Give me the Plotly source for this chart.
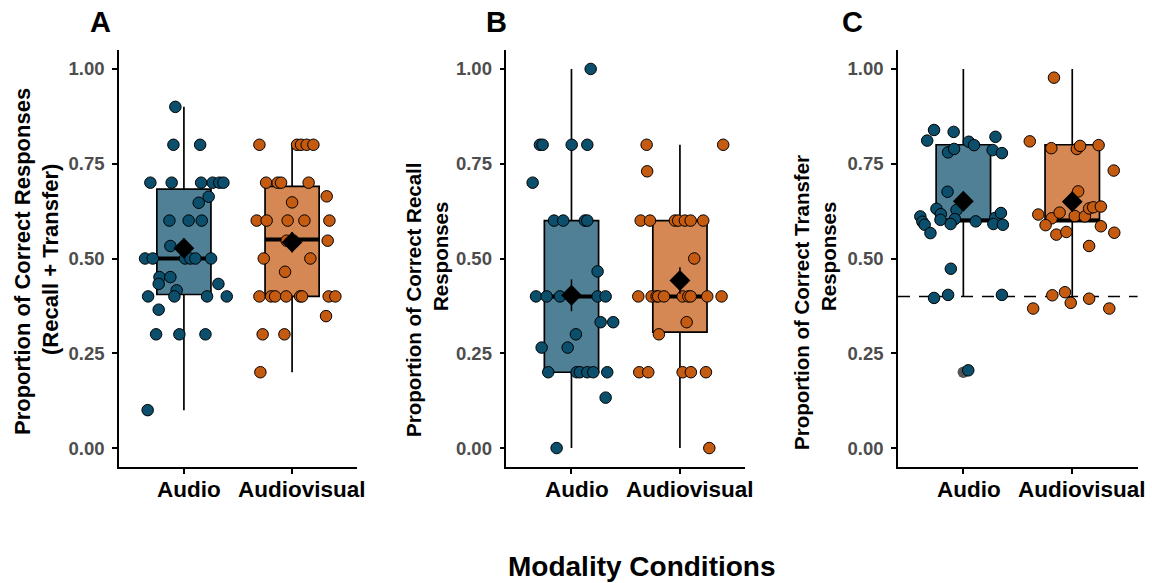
import plotly.graph_objects as go

# ---------------- data ----------------
categories = ["Audio", "Audiovisual"]

# Panel A: recall + transfer
A_audio_y = [0.90, 0.80, 0.80, 0.70, 0.70, 0.70, 0.70, 0.70, 0.70, 0.663, 0.647, 0.60, 0.60, 0.60,
             0.533, 0.50, 0.50, 0.50, 0.50, 0.50, 0.50, 0.451, 0.451, 0.433, 0.416, 0.433, 0.40, 0.40,
             0.40, 0.40, 0.365, 0.30, 0.30, 0.30, 0.10]
A_audio_jit = [-0.079, -0.097, 0.150, -0.310, -0.113, 0.159, 0.266, 0.328, 0.365, 0.229, 0.137, -0.134,
               0.044, 0.165, -0.125, -0.359, -0.288, 0.011, 0.060, 0.106, 0.251, -0.226, -0.125, -0.233,
               -0.067, 0.319, -0.331, -0.088, 0.214, 0.396, -0.233, -0.257, -0.042, 0.199, -0.335]
A_av_y = [0.80, 0.80, 0.80, 0.80, 0.80, 0.70, 0.70, 0.70, 0.70, 0.664, 0.648, 0.60, 0.60, 0.60, 0.60,
          0.60, 0.547, 0.547, 0.547, 0.50, 0.50, 0.465, 0.40, 0.40, 0.40, 0.40, 0.40, 0.40, 0.40, 0.40,
          0.348, 0.30, 0.30, 0.20]
A_av_jit = [-0.302, 0.046, 0.083, 0.135, 0.197, -0.240, -0.133, -0.102, 0.153, 0.320, 0.0, -0.327,
            -0.235, -0.041, 0.114, 0.345, -0.050, 0.012, 0.329, -0.262, 0.169, -0.065, -0.302, -0.194,
            -0.157, -0.055, 0.074, 0.092, 0.338, 0.400, 0.314, -0.272, -0.071, -0.293]

# Panel B: recall
B_audio_y = [1.00, 0.80, 0.80, 0.80, 0.80, 0.70, 0.60, 0.60, 0.60, 0.60, 0.466, 0.40, 0.40, 0.40, 0.40,
             0.40, 0.332, 0.332, 0.30, 0.265, 0.265, 0.20, 0.20, 0.20, 0.20, 0.20, 0.20, 0.133, 0.0]
B_audio_jit = [0.177, -0.291, -0.266, 0.002, 0.146, -0.358, -0.161, -0.076, 0.124, 0.146, 0.241, -0.327,
               -0.229, -0.106, 0.241, 0.315, 0.269, 0.385, 0.041, -0.275, -0.035, -0.214, 0.048, 0.078,
               0.146, 0.201, 0.330, 0.315, -0.137]
B_av_y = [0.80, 0.80, 0.73, 0.60, 0.60, 0.60, 0.60, 0.60, 0.60, 0.60, 0.50, 0.40, 0.40, 0.40, 0.40, 0.40,
          0.40, 0.40, 0.40, 0.40, 0.40, 0.332, 0.30, 0.20, 0.20, 0.20, 0.20, 0.20, 0.0]
B_av_jit = [-0.307, 0.399, -0.302, -0.362, -0.276, -0.046, -0.016, 0.046, 0.099, 0.215, 0.132, -0.384,
            -0.261, -0.215, -0.200, -0.147, 0.025, 0.077, 0.099, 0.252, 0.384, 0.062, -0.194, -0.375,
            -0.292, 0.025, 0.101, 0.240, 0.271]

# Panel C: transfer
C_audio_y = [0.811, 0.839, 0.834, 0.78, 0.789, 0.808, 0.799, 0.786, 0.821, 0.778, 0.676, 0.631, 0.617,
             0.628, 0.602, 0.604, 0.591, 0.611, 0.597, 0.589, 0.567, 0.598, 0.607, 0.62, 0.591, 0.589,
             0.473, 0.396, 0.404, 0.404, 0.205]
C_audio_jit = [-0.332, -0.269, -0.089, -0.140, -0.085, 0.050, 0.098, 0.269, 0.295, 0.354, -0.145, -0.247,
               -0.207, -0.062, -0.210, -0.078, -0.117, -0.395, -0.376, -0.355, -0.302, 0.114, 0.292,
               0.345, 0.276, 0.363, -0.115, -0.269, -0.140, 0.354, 0.045]
C_av_y = [0.977, 0.809, 0.791, 0.789, 0.797, 0.799, 0.732, 0.677, 0.616, 0.606, 0.621, 0.612, 0.611,
          0.632, 0.635, 0.637, 0.588, 0.585, 0.563, 0.57, 0.568, 0.533, 0.368, 0.403, 0.411, 0.383,
          0.394, 0.368]
C_av_jit = [-0.168, -0.390, -0.192, 0.042, 0.072, 0.242, 0.381, 0.054, -0.312, -0.189, -0.116, 0.023,
            0.116, 0.155, 0.192, 0.263, -0.245, 0.263, -0.146, -0.054, 0.386, 0.155, -0.359, -0.183,
            -0.067, -0.014, 0.155, 0.340]
C_outliers_audio = [0.20]
C_chance = 0.40

# box statistics [Audio, Audiovisual]
A_q1 = [0.405, 0.40]; A_med = [0.50, 0.55]; A_q3 = [0.683, 0.69]; A_lo = [0.10, 0.20]; A_hi = [0.90, 0.80]
A_mean = [0.527, 0.543]; A_se = [0.026, 0.027]
B_q1 = [0.20, 0.306]; B_med = [0.40, 0.40]; B_q3 = [0.60, 0.60]; B_lo = [0.0, 0.0]; B_hi = [1.0, 0.80]
B_mean = [0.403, 0.442]; B_se = [0.042, 0.035]
C_q1 = [0.60, 0.60]; C_med = [0.60, 0.60]; C_q3 = [0.80, 0.80]; C_lo = [0.40, 0.40]; C_hi = [1.0, 1.0]
C_mean = [0.651, 0.650]; C_se = [0.025, 0.027]

panel_letters = ["A", "B", "C"]
ytitles = [["Proportion of Correct Responses", "(Recall + Transfer)"],
           ["Proportion of Correct Recall", "Responses"],
           ["Proportion of Correct Transfer", "Responses"]]
y_ticks = [0, 0.25, 0.5, 0.75, 1.0]

# ---------------- styling ----------------
W, H = 1152, 583
point_col = ["#0B4F6C", "#C55A11"]
box_fill = ["rgba(11,79,108,0.72)", "rgba(197,90,17,0.72)"]
FONT = "Liberation Sans, Arial, sans-serif"
x_dom_px = [(119, 357), (506.4, 745.0), (898, 1137.6)]
y_top_px, y_bot_px = 50, 467
title_x_px = [(22, 50), (413, 440), (801, 828)]
title_y_px = [(262, 260), (300, 257), (303, 257)]
title_size = [22, 20.5, 20.5]
letter_x_px = [100, 496, 852]
xlabel_shift_px = [5.5, 10]
xlabel_y_px = 489

fig = go.Figure()

panels = [
    (A_audio_y, A_audio_jit, A_av_y, A_av_jit, A_q1, A_med, A_q3, A_lo, A_hi, A_mean, A_se),
    (B_audio_y, B_audio_jit, B_av_y, B_av_jit, B_q1, B_med, B_q3, B_lo, B_hi, B_mean, B_se),
    (C_audio_y, C_audio_jit, C_av_y, C_av_jit, C_q1, C_med, C_q3, C_lo, C_hi, C_mean, C_se),
]

for p, (ay, aj, vy, vj, q1, med, q3, lo, hi, mn, se) in enumerate(panels):
    xa = "x" if p == 0 else f"x{p+1}"
    ya = "y" if p == 0 else f"y{p+1}"
    groups = [(ay, aj), (vy, vj)]
    for i in range(2):
        pos = i + 1
        fig.add_trace(go.Box(x=[pos], q1=[q1[i]], median=[med[i]], q3=[q3[i]],
                             lowerfence=[lo[i]], upperfence=[hi[i]], width=0.5,
                             fillcolor=box_fill[i], line=dict(color="black", width=1.7),
                             whiskerwidth=0, boxpoints=False, showlegend=False,
                             hoverinfo="skip", xaxis=xa, yaxis=ya))
        fig.add_trace(go.Scatter(x=[pos - 0.25, pos + 0.25], y=[med[i], med[i]], mode="lines",
                                 line=dict(color="black", width=4), showlegend=False,
                                 hoverinfo="skip", xaxis=xa, yaxis=ya))
        if p == 2 and i == 0:
            fig.add_trace(go.Scatter(x=[pos] * len(C_outliers_audio), y=C_outliers_audio,
                                     mode="markers", marker=dict(size=11.5, color="#555555"),
                                     showlegend=False, hoverinfo="skip", xaxis=xa, yaxis=ya))
        gy, gj = groups[i]
        fig.add_trace(go.Scatter(x=[pos + j for j in gj], y=gy, mode="markers",
                                 marker=dict(size=11.5, color=point_col[i],
                                             line=dict(color="black", width=1)),
                                 showlegend=False, xaxis=xa, yaxis=ya))
        fig.add_trace(go.Scatter(x=[pos], y=[mn[i]], mode="markers",
                                 marker=dict(symbol="diamond", size=16, color="black"),
                                 error_y=dict(type="data", array=[se[i]], color="black",
                                              thickness=1.5, width=0),
                                 showlegend=False, xaxis=xa, yaxis=ya))

layout = dict(width=W, height=H, margin=dict(l=0, r=0, t=0, b=0),
              paper_bgcolor="white", plot_bgcolor="white", showlegend=False,
              font=dict(family=FONT, color="black"), boxmode="overlay")

y0 = 1 - y_bot_px / H
y1 = 1 - y_top_px / H
annotations = []
shapes = []
for p in range(3):
    xk = "xaxis" if p == 0 else f"xaxis{p+1}"
    yk = "yaxis" if p == 0 else f"yaxis{p+1}"
    xa = "x" if p == 0 else f"x{p+1}"
    ya = "y" if p == 0 else f"y{p+1}"
    layout[xk] = dict(domain=[x_dom_px[p][0] / W, x_dom_px[p][1] / W], anchor=ya,
                      range=[0.4, 2.6], tickvals=[1, 2], showticklabels=False,
                      ticks="outside", ticklen=5, tickwidth=1.5, tickcolor="black",
                      showline=True, linecolor="black", linewidth=1.5, showgrid=False,
                      zeroline=False)
    layout[yk] = dict(domain=[y0, y1], anchor=xa, range=[-0.05, 1.05], tickvals=y_ticks,
                      tickformat=".2f", ticks="outside", ticklen=5, tickwidth=1.5,
                      tickcolor="black", showline=True, linecolor="black", linewidth=1.5,
                      showgrid=False, zeroline=False, ticklabelstandoff=4,
                      tickfont=dict(size=18.5, color="#4D4D4D", family=FONT, weight="bold"))
    for i, cat in enumerate(categories):
        annotations.append(dict(text=f"<b>{cat}</b>", x=i + 1, xref=xa, y=1 - xlabel_y_px / H,
                                yref="paper", xshift=xlabel_shift_px[i], showarrow=False,
                                font=dict(size=22.5, color="black", family=FONT),
                                xanchor="center", yanchor="middle"))
    annotations.append(dict(text=f"<b>{panel_letters[p]}</b>", x=letter_x_px[p] / W, y=1 - 22 / H,
                            xref="paper", yref="paper", showarrow=False,
                            font=dict(size=29, color="black", family=FONT),
                            xanchor="center", yanchor="middle"))
    for k, line in enumerate(ytitles[p]):
        annotations.append(dict(text=f"<b>{line}</b>", x=title_x_px[p][k] / W,
                                y=1 - title_y_px[p][k] / H, xref="paper", yref="paper",
                                showarrow=False, textangle=-90,
                                font=dict(size=title_size[p], color="black", family=FONT),
                                xanchor="center", yanchor="middle"))

annotations.append(dict(text="<b>Modality Conditions</b>", x=642 / W, y=1 - 566 / H,
                        xref="paper", yref="paper", showarrow=False,
                        font=dict(size=28, color="black", family=FONT),
                        xanchor="center", yanchor="middle"))
shapes.append(dict(type="line", xref="x3 domain", yref="y3", x0=0, x1=1, y0=C_chance, y1=C_chance,
                   line=dict(color="black", width=1.5, dash="12px,9px"), layer="below"))
layout["annotations"] = annotations
layout["shapes"] = shapes
fig.update_layout(**layout)

fig.write_html("out.html")
